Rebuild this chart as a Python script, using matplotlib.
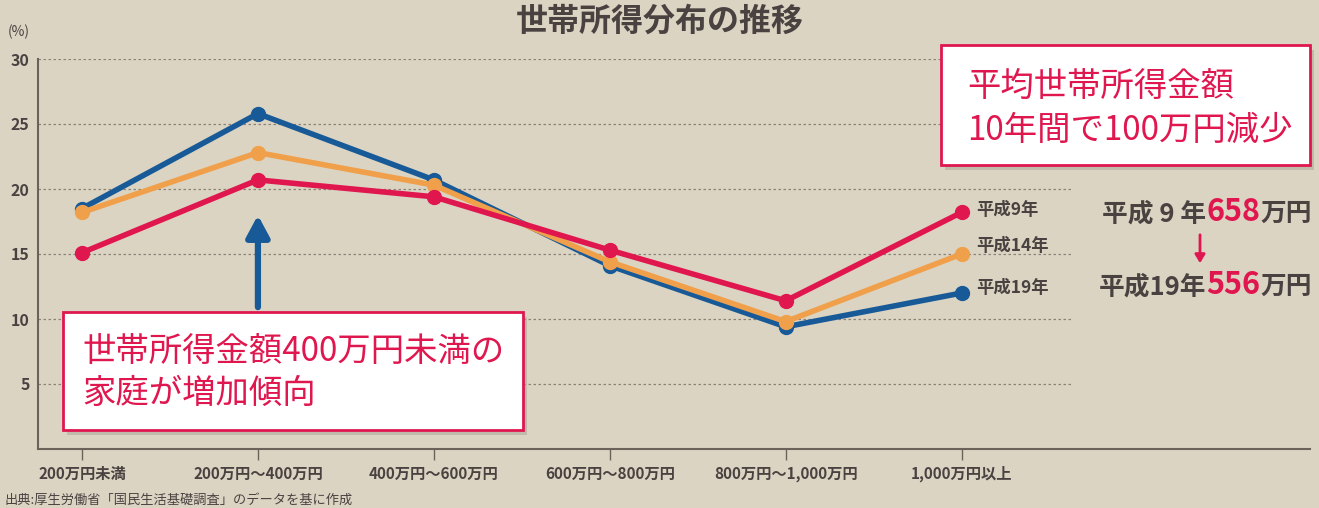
import matplotlib.pyplot as plt
from matplotlib.patches import Rectangle, FancyArrowPatch
from matplotlib.offsetbox import TextArea, HPacker, AnnotationBbox

plt.rcParams['font.family'] = ['Noto Sans CJK JP', 'DejaVu Sans']

categories = ["200万円未満", "200万円～400万円", "400万円～600万円",
              "600万円～800万円", "800万円～1,000万円", "1,000万円以上"]
h9 = [15.1, 20.7, 19.4, 15.3, 11.4, 18.2]
h14 = [18.2, 22.8, 20.3, 14.4, 9.8, 15.0]
h19 = [18.5, 25.8, 20.7, 14.1, 9.4, 12.0]
series_names = ["平成9年", "平成14年", "平成19年"]

bg = "#dcd4c3"
red = "#e0174f"
orange = "#f0a04b"
blue = "#175a97"
dark = "#4a4240"

fig = plt.figure(figsize=(13.19, 5.08), dpi=100, facecolor=bg)
ax = fig.add_axes([38 / 1319, 1 - 449 / 508, (1310 - 38) / 1319, 390 / 508])
ax.set_facecolor(bg)

x = list(range(len(categories)))
ax.set_xlim(-0.25, 6.98)
ax.set_ylim(0, 30)

for v in [5, 10, 15, 20, 25, 30]:
    ax.hlines(v, -0.25, 5.63, colors="#8a8275", linestyles=(0, (2, 2)), linewidth=0.9, zorder=1)

ax.plot(x, h19, color=blue, lw=4, marker="o", ms=10, zorder=3, solid_joinstyle="round")
ax.plot(x, h14, color=orange, lw=4, marker="o", ms=10, zorder=4, solid_joinstyle="round")
ax.plot(x, h9, color=red, lw=4, marker="o", ms=10, zorder=5, solid_joinstyle="round")

ax.set_xticks(x)
ax.set_xticklabels(categories, fontsize=11, color=dark, fontweight="bold")
ax.set_yticks([5, 10, 15, 20, 25, 30])
ax.set_yticklabels(["5", "10", "15", "20", "25", "30"], fontsize=11.5, color=dark, fontweight="bold")
ax.tick_params(axis="y", length=0, pad=6)
ax.tick_params(axis="x", length=8, width=1, color="#6b6259", pad=4)
for s in ["top", "right"]:
    ax.spines[s].set_visible(False)
for s in ["left", "bottom"]:
    ax.spines[s].set_color("#6b6259")
    ax.spines[s].set_linewidth(1.5)

# series labels at right end
offsets = [0.2, 0.6, 0.4]
for name, ys, off in zip(series_names, [h9, h14, h19], offsets):
    ax.text(5.08, ys[-1] + off, name, fontsize=12.5, color=dark, va="center", ha="left",
            fontweight="bold")

# blue arrow
ax.annotate("", xy=(1, 18.2), xytext=(1, 10.7),
            arrowprops=dict(arrowstyle="-|>,head_width=0.7,head_length=1.3", color=blue, lw=4.5))

# title
fig.text(0.5, 1 - 22 / 508, "世帯所得分布の推移", ha="center", va="center",
         fontsize=23, fontweight="bold", color=dark)
fig.text(8 / 1319, 1 - 32 / 508, "(%)", ha="left", va="center", fontsize=10, color=dark)
fig.text(4 / 1319, 1 - 500 / 508, "出典:厚生労働省「国民生活基礎調査」のデータを基に作成",
         ha="left", va="center", fontsize=9.5, color=dark)

def callout(x0, y0, x1, y1, lines, tx, tys):
    w = (x1 - x0) / 1319
    h = (y1 - y0) / 508
    fx = x0 / 1319
    fy = 1 - y1 / 508
    fig.patches.append(Rectangle((fx + 4 / 1319, fy - 5 / 508), w, h, transform=fig.transFigure,
                                 facecolor="#a89f90", edgecolor="none", alpha=0.5, zorder=8))
    fig.patches.append(Rectangle((fx, fy), w, h, transform=fig.transFigure,
                                 facecolor="white", edgecolor=red, lw=2, zorder=9))
    for line, ty in zip(lines, tys):
        fig.text(tx / 1319, 1 - ty / 508, line, ha="left", va="center",
                 fontsize=24, color=red, zorder=10)

callout(63, 312, 523, 430, ["世帯所得金額400万円未満の", "家庭が増加傾向"], 82, [351, 393])
callout(941, 45, 1310, 165, ["平均世帯所得金額", "10年間で100万円減少"], 967, [86, 130])

def mixed(parts, fx, fy):
    areas = [TextArea(t, textprops=dict(color=c, fontsize=fs, fontweight="bold")) for t, c, fs in parts]
    box = HPacker(children=areas, align="baseline", pad=0, sep=0)
    ab = AnnotationBbox(box, (fx, fy), xycoords="figure fraction", frameon=False,
                        box_alignment=(1, 0.5))
    fig.add_artist(ab)

mixed([("平成 9 年", dark, 18.5), ("658", red, 22), ("万円", dark, 18.5)], 1312 / 1319, 1 - 212 / 508)
mixed([("平成19年", dark, 18.5), ("556", red, 22), ("万円", dark, 18.5)], 1312 / 1319, 1 - 285 / 508)

fig.add_artist(FancyArrowPatch(
    (1200 / 1319, 1 - 232 / 508), (1200 / 1319, 1 - 266 / 508), transform=fig.transFigure,
    arrowstyle="-|>,head_width=3,head_length=5", color=red, lw=2))

fig.savefig("out.png", dpi=100, facecolor=bg)
